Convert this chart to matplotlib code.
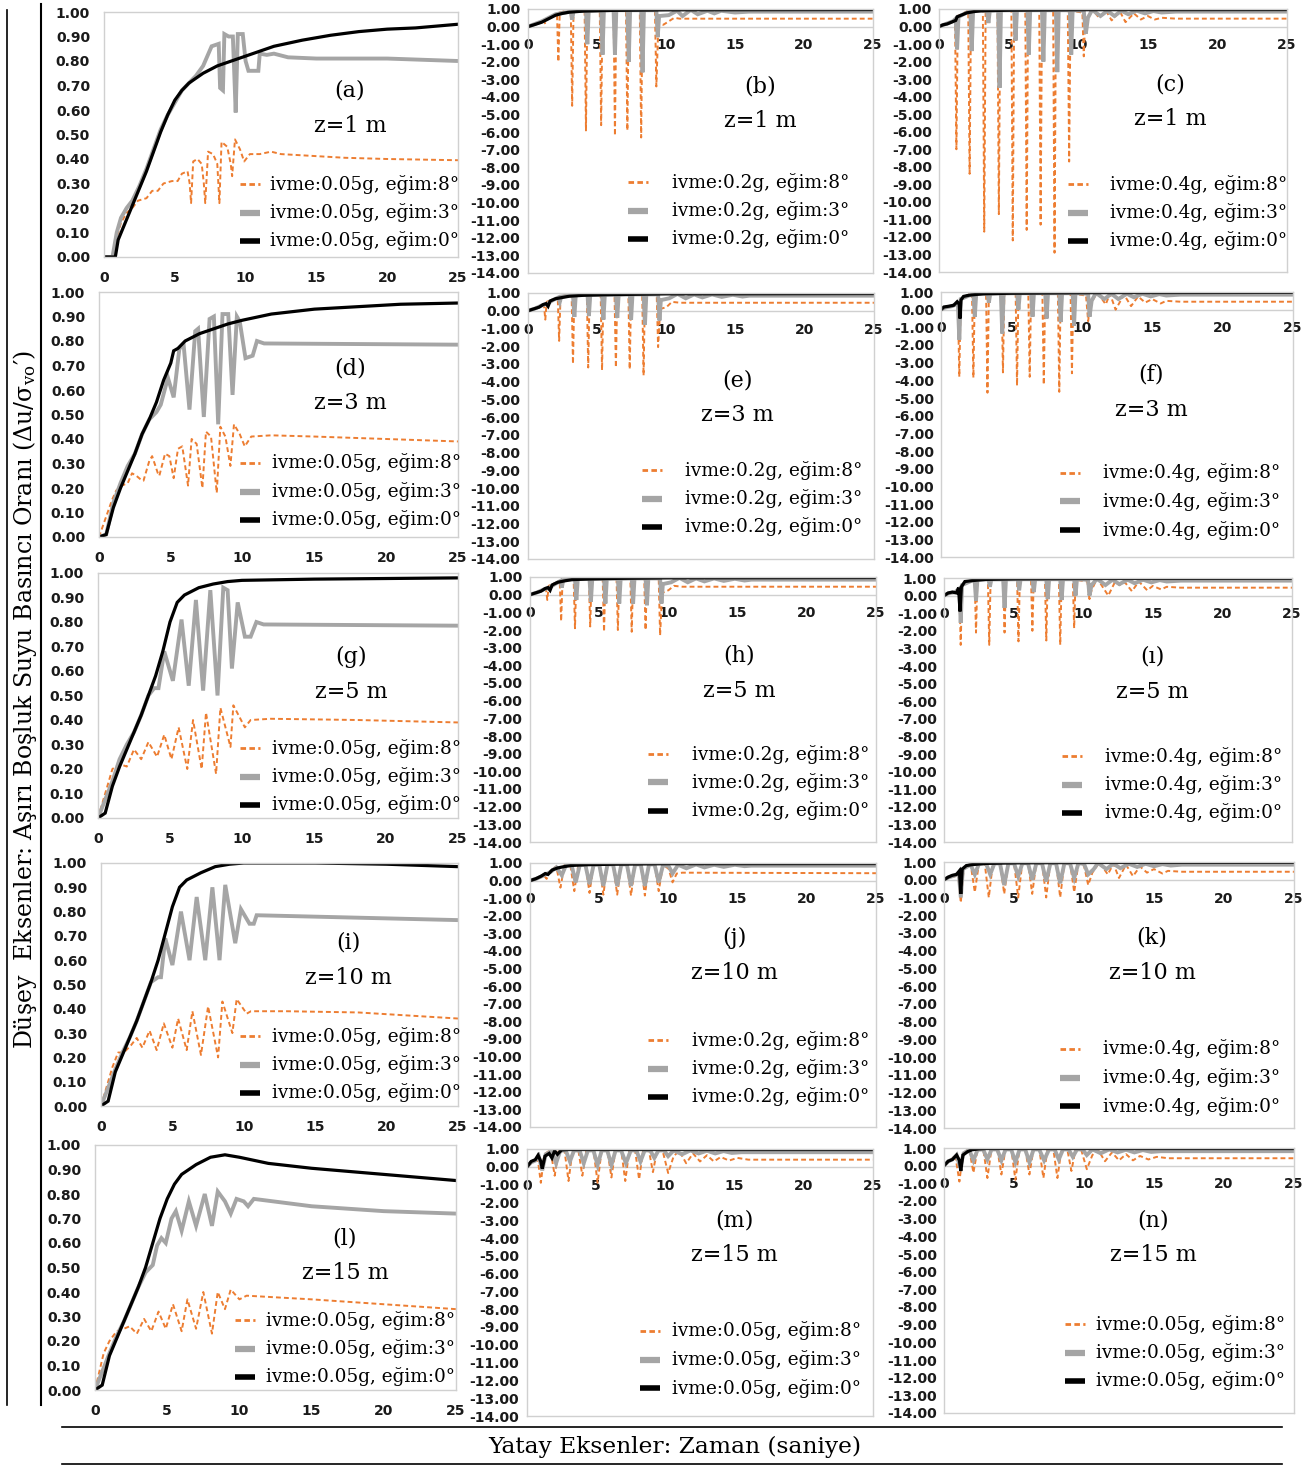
import matplotlib
matplotlib.use("Agg")
import matplotlib.pyplot as plt
from matplotlib.lines import Line2D

plt.rcParams['axes.unicode_minus'] = False
plt.rcParams['mathtext.fontset'] = 'dejavuserif'

# ---- data: (time s, du/sigma) vertices ----
# column 1 : ivme 0.05g, z = 1, 3, 5, 10, 15 m
a8 = [(0,0),(0.7,0),(0.9,0.08),(1.2,0.14),(1.6,0.18),(2.0,0.20),(2.4,0.23),(3.0,0.24),(3.4,0.27),(3.8,0.27),(4.2,0.30),(4.8,0.31),(5.2,0.31),(5.5,0.34),(5.9,0.35),(6.05,0.30),(6.15,0.22),(6.3,0.39),(6.6,0.40),(6.9,0.38),(7.05,0.30),(7.15,0.22),(7.35,0.43),(7.7,0.42),(8.0,0.38),(8.15,0.22),(8.3,0.47),(8.7,0.45),(8.95,0.38),(9.05,0.33),(9.25,0.48),(9.6,0.44),(9.9,0.39),(10.3,0.42),(11.0,0.42),(11.8,0.43),(12.5,0.42),(14,0.415),(17,0.405),(20,0.40),(25,0.395)]
a3 = [(0,0),(0.6,0),(0.9,0.10),(1.2,0.16),(1.6,0.20),(2.0,0.23),(2.5,0.29),(3.0,0.36),(3.5,0.44),(4.0,0.52),(4.5,0.58),(5.0,0.63),(5.5,0.68),(6.0,0.71),(6.5,0.74),(7.0,0.78),(7.3,0.82),(7.6,0.86),(8.1,0.87),(8.2,0.69),(8.4,0.68),(8.5,0.91),(8.8,0.90),(9.1,0.90),(9.2,0.75),(9.3,0.59),(9.45,0.91),(9.8,0.91),(10.0,0.80),(10.2,0.76),(10.9,0.76),(11.0,0.83),(11.5,0.825),(12.0,0.83),(13.0,0.815),(15,0.81),(20,0.81),(25,0.80)]
a0 = [(0,0),(0.8,0),(1.0,0.07),(1.5,0.14),(2.0,0.21),(2.5,0.28),(3.0,0.35),(3.5,0.43),(4.0,0.51),(4.5,0.58),(5.0,0.64),(5.5,0.68),(6.0,0.71),(7.0,0.75),(8.0,0.78),(9.0,0.80),(10.0,0.82),(11.0,0.84),(12.0,0.86),(14.0,0.885),(16.0,0.905),(18.0,0.92),(20.0,0.93),(22.0,0.935),(25.0,0.95)]

d8 = [(0,0),(0.9,0.15),(1.2,0.19),(1.6,0.21),(2.0,0.22),(2.3,0.26),(2.6,0.25),(3.0,0.23),(3.1,0.23),(3.5,0.31),(3.7,0.33),(4.1,0.26),(4.2,0.25),(4.6,0.34),(4.9,0.33),(5.2,0.24),(5.5,0.36),(5.8,0.37),(6.2,0.21),(6.45,0.40),(6.8,0.38),(7.2,0.20),(7.45,0.43),(7.8,0.41),(8.2,0.18),(8.45,0.45),(8.8,0.41),(9.15,0.29),(9.4,0.46),(9.8,0.42),(10.15,0.37),(10.6,0.41),(12,0.415),(15,0.41),(20,0.40),(25,0.39)]
d3 = [(0,0),(0.5,0.01),(1,0.14),(1.5,0.22),(2,0.29),(2.5,0.34),(3,0.42),(3.5,0.48),(4,0.51),(4.3,0.54),(4.8,0.65),(5.2,0.57),(5.6,0.77),(5.9,0.78),(6.3,0.52),(6.7,0.84),(6.9,0.85),(7.3,0.49),(7.7,0.89),(8.0,0.90),(8.3,0.46),(8.6,0.91),(9.0,0.91),(9.3,0.58),(9.6,0.90),(9.8,0.88),(10.2,0.73),(10.7,0.74),(11.0,0.80),(11.5,0.79),(25,0.785)]
d0 = [(0,0),(0.5,0.01),(1,0.12),(1.5,0.20),(2,0.27),(2.5,0.34),(3,0.42),(3.5,0.48),(4,0.55),(4.5,0.64),(5,0.71),(5.2,0.76),(5.5,0.77),(6,0.80),(7,0.83),(8,0.85),(9,0.87),(10,0.885),(12,0.91),(15,0.93),(18,0.94),(21,0.95),(25,0.955)]

g8 = [(0,0),(0.8,0.16),(1,0.20),(1.5,0.22),(2,0.21),(2.5,0.28),(3,0.24),(3.5,0.31),(4.1,0.25),(4.6,0.34),(5.1,0.24),(5.6,0.37),(6.2,0.20),(6.6,0.40),(7.2,0.20),(7.5,0.43),(8.2,0.18),(8.5,0.45),(9.2,0.29),(9.4,0.46),(10.2,0.37),(10.6,0.40),(12,0.405),(18,0.40),(25,0.39)]
g3 = [(0,0),(1,0.15),(1.5,0.24),(2,0.30),(2.5,0.35),(3,0.42),(3.5,0.50),(3.9,0.53),(4.2,0.53),(4.6,0.68),(5.2,0.56),(5.8,0.81),(6.3,0.54),(6.8,0.89),(7.3,0.52),(7.8,0.93),(8.3,0.50),(8.7,0.94),(9.0,0.93),(9.3,0.61),(9.7,0.88),(10.2,0.74),(10.6,0.74),(11.0,0.80),(11.5,0.79),(25,0.785)]
g0 = [(0,0),(0.5,0.02),(1,0.13),(1.5,0.21),(2,0.28),(2.5,0.35),(3,0.42),(3.5,0.50),(4,0.58),(4.5,0.68),(5,0.80),(5.5,0.88),(6,0.91),(7,0.94),(8,0.955),(9,0.965),(10,0.97),(15,0.975),(25,0.98)]

i8 = [(0,0),(0.8,0.16),(1.2,0.22),(1.6,0.22),(2.1,0.25),(2.5,0.28),(2.9,0.24),(3.4,0.31),(3.9,0.23),(4.4,0.34),(5.0,0.24),(5.4,0.36),(6.0,0.23),(6.4,0.39),(7.0,0.21),(7.5,0.41),(8.2,0.20),(8.5,0.43),(9.2,0.30),(9.5,0.44),(10.2,0.38),(10.5,0.39),(13,0.39),(18,0.385),(25,0.36)]
i3 = [(0,0),(1,0.15),(1.5,0.22),(2,0.28),(2.5,0.35),(3,0.43),(3.5,0.51),(4,0.53),(4.2,0.53),(4.5,0.69),(5.0,0.58),(5.6,0.80),(6.2,0.60),(6.7,0.86),(7.3,0.60),(7.8,0.90),(8.3,0.60),(8.7,0.91),(9.4,0.67),(9.8,0.81),(10.4,0.75),(10.7,0.75),(10.9,0.785),(25,0.765)]
i0 = [(0,0),(0.5,0.02),(1,0.14),(1.5,0.21),(2,0.28),(2.5,0.35),(3,0.43),(3.5,0.51),(4,0.60),(4.5,0.71),(5,0.82),(5.5,0.90),(6,0.93),(7,0.96),(8,0.985),(9,0.995),(10,1.0),(15,1.0),(20,0.995),(25,0.985)]

l8 = [(0,0),(0.6,0.15),(1,0.20),(1.5,0.24),(2,0.25),(2.4,0.26),(2.9,0.23),(3.4,0.29),(3.9,0.24),(4.4,0.32),(4.9,0.25),(5.4,0.35),(6.0,0.24),(6.4,0.37),(7.0,0.25),(7.5,0.40),(8.1,0.23),(8.5,0.40),(9.0,0.33),(9.4,0.41),(10.0,0.37),(10.5,0.385),(15,0.37),(20,0.35),(25,0.33)]
l3 = [(0,0),(1,0.15),(1.5,0.22),(2,0.28),(2.5,0.35),(3,0.42),(3.5,0.48),(4,0.51),(4.3,0.59),(4.6,0.62),(4.9,0.60),(5.3,0.70),(5.6,0.73),(6.0,0.65),(6.5,0.77),(7.0,0.67),(7.6,0.80),(8.1,0.67),(8.5,0.81),(9.0,0.77),(9.4,0.72),(9.8,0.78),(10.3,0.77),(10.6,0.75),(11,0.78),(15,0.75),(20,0.73),(25,0.72)]
l0 = [(0,0),(0.5,0.02),(1,0.14),(1.5,0.21),(2,0.28),(2.5,0.35),(3,0.42),(3.5,0.50),(4,0.60),(4.5,0.70),(5,0.78),(5.5,0.84),(6,0.88),(7,0.92),(8,0.95),(9,0.96),(10,0.95),(12,0.925),(15,0.905),(20,0.88),(25,0.855)]

# column 2 : ivme 0.2g (m: 0.05g)
b8 = [(0,0),(0.5,0.15),(1.0,0.3),(1.15,0.35),(1.25,0.15),(1.35,0.45),(1.8,0.6),(2.1,0.75),(2.2,-2.0),(2.3,0.8),(2.8,0.9),(3.1,0.95),(3.2,-4.5),(3.3,0.95),(4.1,0.95),(4.2,-5.9),(4.3,0.95),(5.2,0.95),(5.3,-5.6),(5.4,0.95),(6.2,0.95),(6.3,-6.2),(6.4,0.95),(7.1,0.95),(7.2,-5.9),(7.3,0.95),(8.1,0.95),(8.2,-6.3),(8.3,0.95),(9.2,0.9),(9.3,-3.4),(9.45,0.2),(9.8,0.1),(10.2,0.3),(10.6,0.5),(11,0.45),(25,0.45)]
b3 = [(0,0),(0.5,0.15),(1,0.3),(1.5,0.5),(2,0.7),(2.5,0.78),(3.1,0.85),(3.2,0.4),(3.3,0.88),(4.2,0.9),(4.3,-1.0),(4.4,0.9),(5.3,0.92),(5.4,-1.6),(5.5,0.92),(6.2,0.93),(6.3,-1.6),(6.4,0.93),(7.2,0.93),(7.3,-2.0),(7.4,0.93),(8.2,0.93),(8.3,-2.6),(8.4,0.93),(9.3,0.93),(9.4,-0.6),(9.5,0.6),(10.2,0.65),(10.8,0.9),(11.2,0.6),(11.8,0.95),(12.3,0.7),(13,0.9),(13.5,0.75),(14,0.9),(15,0.8),(16,0.85),(25,0.85)]
b0 = [(0,0),(0.5,0.12),(1,0.25),(1.5,0.45),(2,0.65),(2.5,0.75),(3,0.82),(4,0.88),(6,0.92),(10,0.95),(15,0.96),(25,0.97)]

e8 = [(0,0),(0.5,0.15),(1.0,0.3),(1.15,0.35),(1.25,-0.5),(1.35,0.5),(1.8,0.65),(2.15,0.7),(2.25,-1.7),(2.35,0.8),(3.15,0.95),(3.25,-3.0),(3.35,0.95),(4.25,0.95),(4.35,-3.2),(4.45,0.95),(5.25,0.95),(5.35,-3.35),(5.45,0.95),(6.25,0.95),(6.35,-3.2),(6.45,0.95),(7.25,0.95),(7.35,-3.3),(7.45,0.95),(8.25,0.95),(8.35,-3.65),(8.45,0.95),(9.3,0.9),(9.4,-2.05),(9.55,0.1),(10.0,0.2),(10.4,0.5),(11,0.45),(25,0.45)]
e3 = [(0,0),(0.5,0.12),(1.0,0.3),(1.4,0.4),(1.8,0.6),(2.2,0.75),(2.3,0.5),(2.4,0.8),(3.25,0.88),(3.35,-0.35),(3.45,0.88),(4.3,0.9),(4.4,-0.3),(4.5,0.9),(5.35,0.9),(5.45,-0.5),(5.55,0.9),(6.35,0.9),(6.45,-0.4),(6.55,0.9),(7.35,0.92),(7.45,-0.5),(7.55,0.92),(8.35,0.92),(8.45,-0.8),(8.55,0.92),(9.4,0.92),(9.5,-0.55),(9.6,0.6),(10.2,0.7),(10.8,0.95),(11.4,0.7),(12,0.92),(12.6,0.75),(13.3,0.92),(14,0.78),(14.8,0.9),(15.5,0.8),(16,0.85),(25,0.85)]
e0 = [(0,0),(0.4,0.1),(0.8,0.2),(1.1,0.35),(1.3,0.4),(1.45,0.25),(1.6,0.55),(2.0,0.68),(2.5,0.75),(3,0.82),(4,0.87),(6,0.91),(10,0.95),(25,0.97)]

h8 = [(0,0),(0.5,0.15),(1.0,0.3),(1.15,0.35),(1.25,-0.3),(1.35,0.5),(1.8,0.65),(2.15,0.7),(2.25,-1.5),(2.35,0.8),(3.15,0.95),(3.25,-1.9),(3.35,0.95),(4.25,0.95),(4.35,-1.8),(4.45,0.95),(5.25,0.95),(5.35,-2.1),(5.45,0.95),(6.25,0.95),(6.35,-2.0),(6.45,0.95),(7.25,0.95),(7.35,-2.1),(7.45,0.95),(8.25,0.95),(8.35,-2.0),(8.45,0.95),(9.3,0.9),(9.4,-2.3),(9.55,0.1),(10.0,0.25),(10.4,0.5),(11,0.45),(25,0.45)]
h3 = [(0,0),(0.5,0.12),(1.0,0.3),(1.4,0.4),(1.8,0.6),(2.2,0.78),(2.3,0.4),(2.4,0.82),(3.25,0.88),(3.35,-0.3),(3.45,0.88),(4.3,0.9),(4.4,-0.4),(4.5,0.9),(5.35,0.9),(5.45,-0.5),(5.55,0.9),(6.35,0.9),(6.45,-0.5),(6.55,0.9),(7.35,0.92),(7.45,-0.5),(7.55,0.92),(8.35,0.92),(8.45,-0.6),(8.55,0.92),(9.4,0.92),(9.5,-0.5),(9.6,0.6),(10.2,0.7),(10.8,0.95),(11.4,0.7),(12,0.92),(12.6,0.75),(13.3,0.92),(14,0.78),(14.8,0.9),(15.5,0.8),(16,0.85),(25,0.85)]
h0 = [(0,0),(0.4,0.1),(0.8,0.2),(1.1,0.35),(1.3,0.4),(1.45,0.25),(1.6,0.55),(2,0.7),(2.5,0.78),(3,0.85),(4,0.88),(6,0.92),(10,0.95),(25,0.97)]

j8 = [(0,0),(0.5,0.15),(1.0,0.3),(1.2,0.1),(1.45,0.55),(1.9,0.8),(2.2,-0.4),(2.5,0.9),(2.9,0.95),(3.2,-0.6),(3.5,0.95),(4.0,0.95),(4.3,-0.7),(4.6,0.95),(5.0,0.95),(5.3,-0.8),(5.6,0.95),(6.0,0.95),(6.3,-0.8),(6.6,0.95),(7.0,0.95),(7.3,-0.85),(7.6,0.95),(8.0,0.95),(8.3,-0.85),(8.6,0.95),(9.0,0.9),(9.3,-0.6),(9.6,0.85),(10.0,0.7),(10.3,-0.1),(10.6,0.4),(11,0.45),(25,0.42)]
j3 = [(0,0),(0.5,0.12),(1.0,0.3),(1.5,0.5),(1.9,0.75),(2.3,0.3),(2.6,0.88),(3.0,0.9),(3.3,-0.1),(3.6,0.9),(4.0,0.9),(4.3,-0.2),(4.6,0.9),(5.0,0.92),(5.3,-0.3),(5.6,0.92),(6.0,0.92),(6.3,-0.3),(6.6,0.92),(7.0,0.92),(7.3,-0.3),(7.6,0.92),(8.0,0.92),(8.3,-0.3),(8.6,0.92),(9.0,0.92),(9.3,-0.1),(9.6,0.85),(10.0,0.85),(10.3,0.4),(10.7,0.9),(11.3,0.7),(12,0.92),(12.6,0.75),(13.3,0.9),(14,0.78),(14.8,0.9),(15.5,0.82),(16,0.85),(25,0.85)]
j0 = [(0,0),(0.4,0.1),(0.8,0.25),(1.1,0.4),(1.3,0.35),(1.6,0.6),(2,0.72),(2.5,0.8),(3,0.86),(4,0.9),(6,0.93),(10,0.96),(25,0.97)]

m8 = [(0,0),(0.3,0.2),(0.6,0.4),(0.75,0.6),(1.0,-0.9),(1.25,0.7),(1.7,0.95),(2.0,-0.5),(2.3,0.95),(2.7,0.98),(3.0,-0.8),(3.3,0.98),(3.7,0.98),(4.0,-0.5),(4.3,0.98),(4.8,0.98),(5.1,-0.9),(5.4,0.98),(5.8,0.98),(6.1,-0.6),(6.4,0.98),(6.8,0.98),(7.1,-0.8),(7.4,0.98),(7.8,0.98),(8.1,-0.7),(8.4,0.98),(8.8,0.95),(9.1,-0.3),(9.4,0.95),(9.8,0.9),(10.2,-0.35),(10.6,0.6),(11.0,0.9),(11.5,0.2),(12.0,0.75),(12.5,0.3),(13.0,0.65),(13.5,0.3),(14.0,0.55),(14.6,0.35),(15.2,0.5),(16,0.4),(25,0.4)]
m3 = [(0,0),(0.3,0.25),(0.6,0.35),(0.85,0.6),(1.1,-0.2),(1.35,0.7),(1.8,0.9),(2.1,0.2),(2.4,0.9),(2.8,0.92),(3.1,0.3),(3.4,0.92),(3.8,0.92),(4.1,0.2),(4.4,0.92),(4.8,0.92),(5.1,0.1),(5.4,0.92),(5.8,0.92),(6.1,0.1),(6.4,0.92),(6.8,0.92),(7.15,0.2),(7.5,0.92),(7.9,0.92),(8.2,0.3),(8.5,0.92),(8.9,0.92),(9.2,0.5),(9.5,0.92),(9.9,0.92),(10.2,0.6),(10.6,0.92),(11.2,0.7),(11.8,0.92),(12.4,0.75),(13,0.9),(13.6,0.75),(14.2,0.88),(14.8,0.78),(15.5,0.82),(25,0.82)]
m0 = [(0,0),(0.3,0.3),(0.6,0.4),(0.8,0.65),(1.0,0.3),(1.1,-0.1),(1.3,0.6),(1.6,0.75),(1.8,0.5),(2.0,0.9),(2.2,0.7),(2.5,0.95),(3,0.97),(25,0.97)]

# column 3 : ivme 0.4g (n: 0.05g)
c8 = [(0,0),(0.5,0.15),(1.0,0.3),(1.15,0.4),(1.25,-7.0),(1.35,0.6),(2.1,0.9),(2.2,-8.4),(2.3,0.95),(3.15,0.98),(3.25,-11.7),(3.35,0.98),(4.2,0.98),(4.3,-10.7),(4.4,0.98),(5.2,0.98),(5.3,-12.2),(5.4,0.98),(6.2,0.98),(6.3,-11.6),(6.4,0.98),(7.2,0.98),(7.3,-11.3),(7.4,0.98),(8.2,0.98),(8.3,-12.9),(8.4,0.98),(9.25,0.98),(9.35,-7.7),(9.45,0.9),(10.3,0.8),(10.4,-1.7),(10.5,0.3),(11,0.98),(11.5,0.5),(12,0.9),(12.4,0.35),(13,0.85),(13.4,0.25),(14,0.75),(14.5,0.4),(15,0.6),(15.5,0.4),(16,0.5),(17,0.45),(25,0.45)]
c3 = [(0,0),(0.5,0.15),(1.0,0.3),(1.2,0.45),(1.3,-1.3),(1.4,0.55),(2.0,0.8),(2.25,0.85),(2.35,-1.4),(2.45,0.88),(3.45,0.9),(3.55,0.2),(3.65,0.9),(4.25,0.92),(4.35,-3.5),(4.45,0.92),(5.4,0.93),(5.5,-0.8),(5.6,0.93),(6.35,0.93),(6.45,-1.6),(6.55,0.93),(7.4,0.93),(7.5,-2.0),(7.6,0.93),(8.4,0.93),(8.5,-2.6),(8.6,0.93),(9.4,0.93),(9.5,-1.6),(9.6,0.93),(10.4,0.9),(10.55,-0.4),(10.7,0.5),(11.0,0.95),(11.6,0.6),(12.1,0.9),(12.6,0.6),(13.1,0.9),(13.6,0.7),(14.2,0.9),(14.8,0.75),(15.4,0.88),(16,0.8),(17,0.85),(25,0.85)]
c0 = [(0,0),(0.3,0.1),(0.6,0.15),(0.9,0.25),(1.2,0.35),(1.3,0.55),(1.6,0.65),(2,0.78),(2.5,0.85),(3,0.9),(5,0.93),(10,0.96),(25,0.97)]

f8 = [(0,0),(0.3,0.1),(0.8,0.2),(1.2,0.4),(1.3,-3.8),(1.4,0.6),(2.2,0.95),(2.3,-3.85),(2.4,0.95),(3.2,0.98),(3.3,-4.7),(3.4,0.98),(4.3,0.98),(4.4,-3.55),(4.5,0.98),(5.3,0.98),(5.4,-4.3),(5.5,0.98),(6.2,0.98),(6.3,-3.8),(6.4,0.98),(7.2,0.98),(7.3,-4.25),(7.4,0.98),(8.3,0.98),(8.4,-4.65),(8.5,0.98),(9.2,0.98),(9.3,-3.6),(9.4,0.9),(10.3,0.8),(10.45,-0.65),(10.6,0.3),(11.1,0.98),(11.7,0.3),(12.0,0.9),(12.4,0.0),(13,0.85),(13.5,0.2),(14,0.75),(14.5,0.4),(15,0.6),(15.6,0.35),(16,0.5),(17,0.45),(25,0.45)]
f3 = [(0,0),(0.3,0.12),(0.8,0.2),(1.2,0.35),(1.3,-1.7),(1.4,0.6),(2.0,0.8),(2.3,0.85),(2.4,-0.4),(2.5,0.88),(3.3,0.9),(3.4,0.4),(3.5,0.9),(4.25,0.92),(4.35,-1.35),(4.45,0.92),(5.4,0.93),(5.5,0.0),(5.6,0.93),(6.4,0.93),(6.5,-0.4),(6.6,0.93),(7.4,0.93),(7.5,-0.5),(7.6,0.93),(8.4,0.93),(8.5,-0.7),(8.6,0.93),(9.35,0.93),(9.45,-0.9),(9.55,0.93),(10.45,0.9),(10.55,-0.4),(10.7,0.5),(11.0,0.95),(11.6,0.6),(12.1,0.9),(12.6,0.6),(13.2,0.9),(13.7,0.7),(14.3,0.9),(14.9,0.75),(15.5,0.88),(16,0.8),(17,0.85),(25,0.85)]
f0 = [(0,0),(0.2,0.15),(0.6,0.2),(0.9,0.25),(1.15,0.45),(1.3,0.3),(1.35,-0.5),(1.42,0.55),(1.6,0.75),(2,0.82),(3,0.9),(5,0.93),(10,0.96),(25,0.98)]

# q = panel (ı)
q8 = [(0,0),(0.3,0.1),(0.8,0.2),(1.1,0.4),(1.2,-2.8),(1.3,0.6),(2.2,0.95),(2.3,-2.1),(2.4,0.95),(3.15,0.98),(3.25,-2.8),(3.35,0.98),(4.25,0.98),(4.35,-2.1),(4.45,0.98),(5.25,0.98),(5.35,-2.6),(5.45,0.98),(6.25,0.98),(6.35,-2.0),(6.45,0.98),(7.25,0.98),(7.35,-2.55),(7.45,0.98),(8.25,0.98),(8.35,-2.8),(8.45,0.98),(9.25,0.98),(9.35,-1.85),(9.45,0.9),(10.3,0.8),(10.45,-0.2),(10.6,0.3),(11.0,0.98),(11.8,0.0),(12.3,0.8),(12.6,0.6),(13.0,0.75),(13.5,0.25),(14.0,0.8),(14.6,0.3),(15.0,0.55),(15.6,0.35),(16.0,0.5),(17,0.45),(25,0.45)]
q3 = [(0,0),(0.3,0.12),(0.8,0.2),(1.1,0.4),(1.2,-1.55),(1.3,0.6),(2.0,0.85),(2.2,0.9),(2.3,-0.3),(2.4,0.9),(3.2,0.92),(3.3,0.5),(3.4,0.92),(4.25,0.92),(4.35,-0.7),(4.45,0.92),(5.3,0.93),(5.4,0.3),(5.5,0.93),(6.35,0.93),(6.45,0.2),(6.55,0.93),(7.35,0.93),(7.45,-0.2),(7.55,0.93),(8.35,0.93),(8.45,-0.25),(8.55,0.93),(9.35,0.93),(9.45,0.0),(9.55,0.93),(10.35,0.9),(10.45,0.0),(10.6,0.6),(11.0,0.95),(11.6,0.6),(12.1,0.9),(12.6,0.65),(13.2,0.9),(13.7,0.7),(14.3,0.9),(14.9,0.75),(15.5,0.88),(16,0.8),(17,0.85),(25,0.85)]
q0 = [(0,0),(0.3,0.15),(0.6,0.2),(0.9,0.15),(1.05,0.45),(1.15,-0.9),(1.25,0.5),(1.5,0.8),(2,0.85),(3,0.92),(5,0.95),(10,0.97),(25,0.98)]

k8 = [(0,0),(0.3,0.1),(0.8,0.2),(1.0,0.4),(1.2,-1.3),(1.4,0.6),(1.9,0.9),(2.2,-0.7),(2.5,0.95),(2.9,0.98),(3.2,-1.0),(3.5,0.98),(4.0,0.98),(4.3,-0.8),(4.6,0.98),(5.0,0.98),(5.3,-1.0),(5.6,0.98),(6.0,0.98),(6.3,-0.8),(6.6,0.98),(7.0,0.98),(7.3,-1.0),(7.6,0.98),(8.0,0.98),(8.3,-1.0),(8.6,0.98),(9.0,0.98),(9.3,-0.7),(9.6,0.9),(10.0,0.8),(10.3,-0.3),(10.6,0.4),(11.1,0.98),(11.7,0.3),(12.1,0.9),(12.5,0.1),(13,0.85),(13.5,0.2),(14,0.75),(14.5,0.4),(15,0.6),(15.6,0.35),(16,0.5),(17,0.45),(25,0.45)]
k3 = [(0,0),(0.3,0.12),(0.8,0.25),(1.05,0.4),(1.2,-1.0),(1.35,0.6),(1.9,0.85),(2.2,0.3),(2.5,0.9),(3.0,0.92),(3.3,0.3),(3.6,0.92),(4.0,0.92),(4.3,-0.3),(4.6,0.92),(5.0,0.93),(5.3,0.2),(5.6,0.93),(6.0,0.93),(6.3,0.0),(6.6,0.93),(7.0,0.93),(7.3,-0.1),(7.6,0.93),(8.0,0.93),(8.3,-0.2),(8.6,0.93),(9.0,0.93),(9.3,0.1),(9.6,0.93),(10.0,0.9),(10.3,0.3),(10.7,0.6),(11.0,0.95),(11.6,0.6),(12.1,0.9),(12.6,0.65),(13.2,0.9),(13.8,0.72),(14.4,0.9),(15,0.76),(15.6,0.88),(16.2,0.8),(17,0.85),(25,0.85)]
k0 = [(0,0),(0.3,0.15),(0.6,0.25),(0.9,0.3),(1.1,0.5),(1.2,-0.8),(1.3,0.6),(1.6,0.8),(2,0.85),(3,0.92),(5,0.95),(10,0.97),(25,0.98)]

n8 = [(0,0),(0.3,0.2),(0.6,0.4),(0.8,0.6),(1.1,-0.9),(1.35,0.7),(1.8,0.95),(2.1,-0.4),(2.4,0.95),(2.8,0.98),(3.1,-0.7),(3.4,0.98),(3.8,0.98),(4.1,-0.5),(4.4,0.98),(4.8,0.98),(5.1,-0.8),(5.4,0.98),(5.8,0.98),(6.1,-0.5),(6.4,0.98),(6.8,0.98),(7.1,-0.7),(7.4,0.98),(7.8,0.98),(8.1,-0.7),(8.4,0.98),(8.8,0.95),(9.1,-0.3),(9.4,0.95),(9.8,0.9),(10.2,-0.2),(10.6,0.6),(11.0,0.9),(11.5,0.25),(12.0,0.75),(12.5,0.3),(13.0,0.65),(13.5,0.3),(14.0,0.55),(14.6,0.35),(15.2,0.5),(16,0.42),(25,0.42)]
n3 = [(0,0),(0.3,0.25),(0.6,0.35),(0.9,0.6),(1.15,-0.1),(1.4,0.7),(1.8,0.9),(2.1,0.3),(2.4,0.9),(2.8,0.92),(3.1,0.35),(3.4,0.92),(3.8,0.92),(4.1,0.3),(4.4,0.92),(4.8,0.92),(5.1,0.2),(5.4,0.92),(5.8,0.92),(6.1,0.2),(6.4,0.92),(6.8,0.92),(7.15,0.3),(7.5,0.92),(7.9,0.92),(8.2,0.35),(8.5,0.92),(8.9,0.92),(9.2,0.5),(9.5,0.92),(9.9,0.92),(10.2,0.6),(10.6,0.92),(11.2,0.7),(11.8,0.92),(12.4,0.75),(13,0.9),(13.6,0.75),(14.2,0.88),(14.8,0.78),(15.5,0.82),(25,0.82)]
n0 = [(0,0),(0.3,0.25),(0.6,0.35),(0.9,0.6),(1.1,0.3),(1.2,-0.3),(1.35,0.6),(1.7,0.8),(2.0,0.9),(2.5,0.95),(3,0.97),(25,0.97)]

xticks = [0, 5, 10, 15, 20, 25]
small_ticks = [v / 10 for v in range(0, 11)]
big_ticks = list(range(-14, 2))

# ---- layout (pixels of the 1313x1465 picture) ----
W, H = 1313, 1465
ORANGE, GRAY, FRAME = '#ED7D31', '#A5A5A5', '#D0D0D0'
SERIF = 'DejaVu Serif'

# panel, curves, axes box (l, t, r, b), wide y range, ytick pad,
# label centre (x, y), legend (handle x, text x, first row y), accel text
panels = [
    ('a', (a8, a3, a0), (104, 12, 458, 257), False, 10, (350, 91), (240, 270, 184), '0.05g'),
    ('d', (d8, d3, d0), (99, 292, 458, 537), False, 10, (350, 368), (240, 272, 463), '0.05g'),
    ('g', (g8, g3, g0), (98, 573, 458, 818), False, 10, (351, 657), (240, 272, 748), '0.05g'),
    ('i', (i8, i3, i0), (101, 863, 458, 1106), False, 10, (348, 943), (240, 272, 1036), '0.05g'),
    ('l', (l8, l3, l0), (95, 1145, 456, 1390), False, 10, (345, 1238), (235, 266, 1320), '0.05g'),
    ('b', (b8, b3, b0), (528, 9, 873, 273), True, 5.5, (760, 86), (628, 672, 182), '0.2g'),
    ('e', (e8, e3, e0), (528, 293, 874, 559), True, 5.5, (737, 380), (642, 685, 470), '0.2g'),
    ('h', (h8, h3, h0), (530, 577, 876, 842), True, 5.5, (739, 656), (648, 692, 754), '0.2g'),
    ('j', (j8, j3, j0), (530, 863, 876, 1127), True, 5.5, (734, 938), (648, 692, 1040), '0.2g'),
    ('m', (m8, m3, m0), (527, 1149, 873, 1416), True, 5.5, (734, 1220), (640, 672, 1331), '0.05g'),
    ('c', (c8, c3, c0), (939, 9, 1287, 272), True, 5, (1170, 84), (1068, 1110, 184), '0.4g'),
    ('f', (f8, f3, f0), (941, 292, 1293, 557), True, 5, (1151, 375), (1060, 1103, 473), '0.4g'),
    ('ı', (q8, q3, q0), (944, 578, 1292, 842), True, 5, (1152, 657), (1062, 1105, 756), '0.4g'),
    ('k', (k8, k3, k0), (944, 862, 1294, 1128), True, 5, (1152, 938), (1060, 1103, 1049), '0.4g'),
    ('n', (n8, n3, n0), (944, 1148, 1294, 1413), True, 5, (1153, 1220), (1065, 1096, 1324), '0.05g'),
]
depth = {'a': 1, 'b': 1, 'c': 1, 'd': 3, 'e': 3, 'f': 3, 'g': 5, 'h': 5, 'ı': 5,
         'i': 10, 'j': 10, 'k': 10, 'l': 15, 'm': 15, 'n': 15}

styles = [dict(color=ORANGE, lw=1.4, ls=(0, (2.5, 1.6))),
          dict(color=GRAY, lw=2.8, ls='-'),
          dict(color='black', lw=2.3, ls='-')]
leg_styles = [dict(color=ORANGE, lw=2.0, ls=(0, (2.0, 1.2))),
              dict(color=GRAY, lw=4.5, ls='-'),
              dict(color='black', lw=4.0, ls='-')]
angles = ['8', '3', '0']

fig = plt.figure(figsize=(W / 100, H / 100), dpi=100)


def fx(x):
    return x / W


def fy(y):
    return 1 - y / H


for name, curves, (l, t, r, b), wide, ypad, (lx, ly), (hx, tx, ry), acc in panels:
    ax = fig.add_axes([fx(l), fy(b), (r - l) / W, (b - t) / H])
    for pts, st in zip(curves, styles):
        ax.plot([p[0] for p in pts], [p[1] for p in pts], solid_joinstyle='miter', **st)
    ax.set_xlim(0, 25)
    for sp in ax.spines.values():
        sp.set_color(FRAME)
        sp.set_linewidth(1.0)
    tick_kw = dict(fontsize=10, fontweight='bold', color='#1a1a1a', family='DejaVu Sans')
    if wide:
        ax.set_ylim(-14, 1)
        ax.set_yticks(big_ticks, labels=['%.2f' % v for v in big_ticks], **tick_kw)
        ax.axhline(0, color=FRAME, lw=1.0, zorder=0.5)
        ax.set_xticks([])
        sec = ax.secondary_xaxis(14 / 15)
        sec.set_alignment('bottom')
        sec.set_xticks(xticks, labels=[str(v) for v in xticks], **tick_kw)
        sec.tick_params(length=0, pad=8.5)
        for sp in sec.spines.values():
            sp.set_visible(False)
    else:
        ax.set_ylim(0, 1)
        ax.set_yticks(small_ticks, labels=['%.2f' % v for v in small_ticks], **tick_kw)
        ax.set_xticks(xticks, labels=[str(v) for v in xticks], **tick_kw)
        ax.tick_params(axis='x', length=0, pad=10)
    ax.tick_params(axis='y', length=0, pad=ypad)

    fig.text(fx(lx), fy(ly), '(%s)' % name, ha='center', va='center', fontsize=16, family=SERIF)
    fig.text(fx(lx), fy(ly + 35), 'z=%d m' % depth[name], ha='center', va='center',
             fontsize=16, family=SERIF)

    for k, (st, ang) in enumerate(zip(leg_styles, angles)):
        yy = fy(ry + k * 28.5)
        fig.add_artist(Line2D([fx(hx), fx(hx + 20)], [yy, yy], transform=fig.transFigure,
                              solid_capstyle='butt', **st))
        fig.text(fx(tx), yy, 'ivme:%s, eğim:%s°' % (acc, ang), ha='left', va='center',
                 fontsize=13.3, family=SERIF)

# frame lines and the shared axis titles
fig.add_artist(Line2D([fx(7), fx(7)], [fy(10), fy(1405)], transform=fig.transFigure,
                      color='black', lw=1.2))
fig.add_artist(Line2D([fx(41), fx(41)], [fy(4), fy(1405)], transform=fig.transFigure,
                      color='black', lw=1.5))
fig.add_artist(Line2D([fx(62), fx(1282)], [fy(1427), fy(1427)], transform=fig.transFigure,
                      color='black', lw=1.2))
fig.add_artist(Line2D([fx(62), fx(1282)], [fy(1464), fy(1464)], transform=fig.transFigure,
                      color='black', lw=1.2))

fig.text(fx(25), fy(700),
         'Düşey  Eksenler: Aşırı Boşluk Suyu Basıncı Oranı (Δu/σ$_{\\mathrm{vo}}$′)',
         rotation=90, ha='center', va='center', fontsize=17, family=SERIF)
fig.text(fx(675), fy(1447), 'Yatay Eksenler: Zaman (saniye)', ha='center', va='center',
         fontsize=16.8, family=SERIF)

fig.savefig('out.png', dpi=100)
